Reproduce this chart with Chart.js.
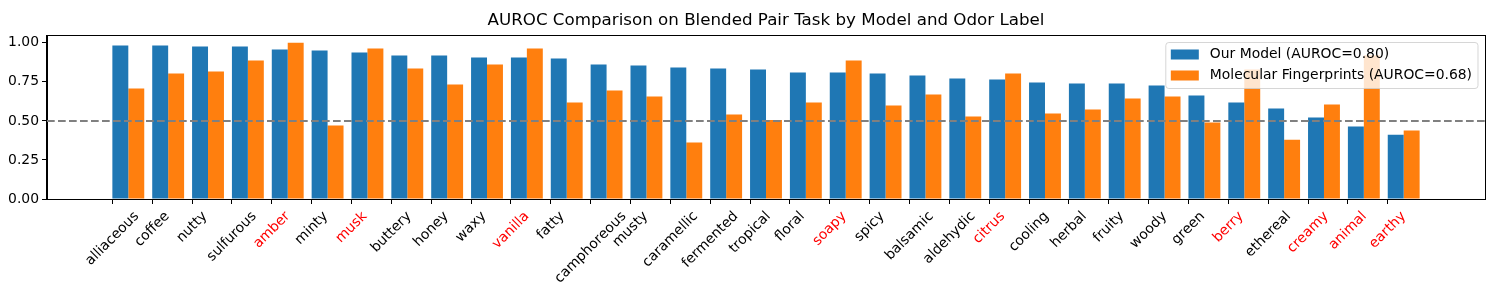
<!DOCTYPE html>
<html>
<head>
<meta charset="utf-8">
<script src="https://cdn.jsdelivr.net/npm/chart.js@4.4.1/dist/chart.umd.min.js"></script>
<style>
  body { margin: 0; background: #fff; }
</style>
</head>
<body>
<canvas id="myChart" width="1500" height="300"></canvas>
<script>

const categories = [
    'alliaceous', 'coffee', 'nutty', 'sulfurous', 'amber', 'minty', 'musk',
    'buttery', 'honey', 'waxy', 'vanilla', 'fatty', 'camphoreous', 'musty',
    'caramellic', 'fermented', 'tropical', 'floral', 'soapy', 'spicy',
    'balsamic', 'aldehydic', 'citrus', 'cooling', 'herbal', 'fruity', 'woody',
    'green', 'berry', 'ethereal', 'creamy', 'animal', 'earthy',
];

const ourModel = [
    0.983, 0.983, 0.976, 0.976, 0.957, 0.951, 0.938,
    0.919, 0.919, 0.906, 0.906, 0.900, 0.861, 0.855,
    0.842, 0.835, 0.829, 0.810, 0.810, 0.803,
    0.791, 0.771, 0.765, 0.746, 0.739, 0.739, 0.726,
    0.662, 0.618, 0.579, 0.521, 0.464, 0.412,
];

const fingerprints = [
    0.707, 0.803, 0.816, 0.887, 1.000, 0.470, 0.964,
    0.835, 0.733, 0.861, 0.964, 0.618, 0.694, 0.656,
    0.361, 0.541, 0.505, 0.618, 0.887, 0.598,
    0.669, 0.528, 0.803, 0.547, 0.573, 0.643, 0.656,
    0.489, 0.829, 0.380, 0.605, 0.920, 0.438,
];

// labels drawn in red
const highlighted = ['amber', 'musk', 'vanilla', 'soapy', 'citrus', 'berry', 'creamy', 'animal', 'earthy'];

const titleText = 'AUROC Comparison on Blended Pair Task by Model and Odor Label';
const seriesLabels = ['Our Model (AUROC=0.80)', 'Molecular Fingerprints (AUROC=0.68)'];
const yTicks = [0, 0.25, 0.5, 0.75, 1.0];
const baseline = 0.5;

const FONT = 'DejaVu Sans';
const TICK_FONT = '13.9px "' + FONT + '"';

// bar groups start at each tick, like matplotlib align='edge'
const groupSpan = 0.8;
const span = categories.length - 1 + groupSpan;
const xMin = -0.05 * span;
const xMax = span + 0.05 * span;

const framePlugin = {
    id: 'framePlugin',
    afterDatasetsDraw(chart) {
        const ctx = chart.ctx;
        const area = chart.chartArea;
        const y = chart.scales.y.getPixelForValue(baseline);
        ctx.save();
        ctx.strokeStyle = '#808080';
        ctx.lineWidth = 2;
        ctx.setLineDash([7.7, 3.3]);
        ctx.beginPath();
        ctx.moveTo(area.left, y);
        ctx.lineTo(area.right, y);
        ctx.stroke();
        ctx.setLineDash([]);
        ctx.strokeStyle = '#000';
        ctx.lineWidth = 1;
        ctx.strokeRect(Math.round(area.left) - 0.5, Math.round(area.top) + 0.5,
            Math.round(area.right - area.left) + 1, Math.round(area.bottom - area.top));
        ctx.restore();
    },
    afterDraw(chart) {
        const ctx = chart.ctx;
        const area = chart.chartArea;
        const xs = chart.scales.x;

        // title centred over the axes, not the whole canvas
        ctx.save();
        ctx.font = '16.7px "' + FONT + '"';
        ctx.fillStyle = '#000';
        ctx.textAlign = 'center';
        ctx.textBaseline = 'middle';
        ctx.fillText(titleText, (area.left + area.right) / 2, area.top - 14.5);
        ctx.restore();

        // x tick labels: rotated 45deg, box centred under the tick (matplotlib ha='center')
        ctx.save();
        ctx.font = TICK_FONT;
        ctx.textAlign = 'center';
        ctx.textBaseline = 'middle';
        const top = area.bottom + 9.5;
        const H = 16;
        xs.ticks.forEach((t, i) => {
            const label = categories[t.value];
            const W = ctx.measureText(label).width;
            const half = (W + H) / (2 * Math.SQRT2);
            ctx.save();
            ctx.translate(xs.getPixelForTick(i), top + half);
            ctx.rotate(-Math.PI / 4);
            ctx.fillStyle = highlighted.includes(label) ? '#ff0000' : '#000';
            ctx.fillText(label, 0, 0);
            ctx.restore();
        });
        ctx.restore();

        // matplotlib style legend inside the upper right corner
        const ds = chart.data.datasets;
        ctx.save();
        ctx.font = TICK_FONT;
        let textW = 0;
        ds.forEach(d => { textW = Math.max(textW, ctx.measureText(d.label).width); });
        const w = 5 + 28 + 11 + textW + 6;
        const h = 46;
        const x0 = area.right - 7 - w;
        const y0 = area.top + 7.5;
        ctx.beginPath();
        ctx.roundRect(x0, y0, w, h, 3);
        ctx.fillStyle = 'rgba(255,255,255,0.8)';
        ctx.fill();
        ctx.strokeStyle = 'rgba(204,204,204,0.8)';
        ctx.lineWidth = 1;
        ctx.stroke();
        ds.forEach((d, i) => {
            const cy = y0 + 12 + i * 21;
            ctx.fillStyle = d.backgroundColor;
            ctx.fillRect(x0 + 5, cy - 5, 28, 10);
            ctx.fillStyle = '#000';
            ctx.textBaseline = 'middle';
            ctx.textAlign = 'left';
            ctx.fillText(d.label, x0 + 44, cy);
        });
        ctx.restore();
    }
};

const data = {
    datasets: [{
        label: seriesLabels[0],
        backgroundColor: '#1f77b4',
        data: ourModel.map((v, i) => ({ x: i + groupSpan / 2, y: v })),
    }, {
        label: seriesLabels[1],
        backgroundColor: '#ff7f0e',
        data: fingerprints.map((v, i) => ({ x: i + groupSpan / 2, y: v })),
    }]
};

const chartOptions = {
    responsive: false,
    animation: false,
    categoryPercentage: groupSpan,
    barPercentage: 1,
    layout: {
        padding: { left: 0, right: 15, top: 35, bottom: 0 }
    },
    plugins: {
        legend: { display: false },
        tooltip: { enabled: false },
        title: { display: false },
    },
    scales: {
        x: {
            type: 'linear',
            min: xMin,
            max: xMax,
            offset: false,
            afterBuildTicks(scale) {
                scale.ticks = categories.map((c, i) => ({ value: i }));
            },
            afterFit(scale) {
                scale.height = 101;
            },
            grid: {
                offset: false,
                drawOnChartArea: false,
                drawTicks: true,
                tickLength: 5,
                color: '#000',
            },
            border: { display: true, color: '#000' },
            ticks: {
                display: false,
                autoSkip: false,
                callback: (value) => categories[value],
            }
        },
        y: {
            min: 0,
            max: 1.05,
            afterBuildTicks(scale) {
                scale.ticks = yTicks.map(v => ({ value: v }));
            },
            afterFit(scale) {
                scale.width = 47;
            },
            grid: {
                drawOnChartArea: false,
                drawTicks: true,
                tickLength: 5,
                color: '#000',
            },
            border: { display: true, color: '#000' },
            ticks: {
                padding: 3,
                color: '#000',
                font: { family: FONT, size: 13.9 },
                callback: (value) => value.toFixed(2),
            }
        }
    }
};

const config = {
    type: 'bar',
    data: data,
    options: chartOptions,
    plugins: [framePlugin],
};

const myChart = new Chart(
    document.getElementById('myChart'),
    config
);

</script>
</body>
</html>
